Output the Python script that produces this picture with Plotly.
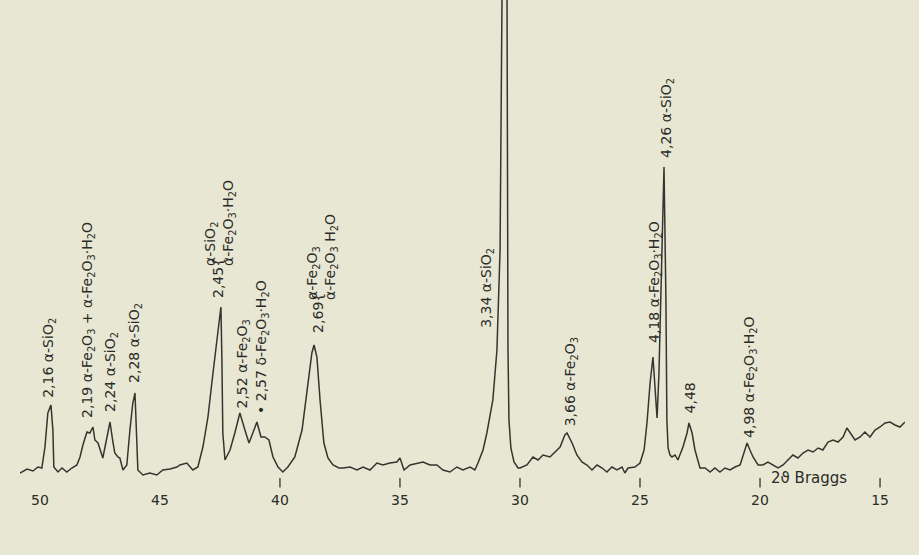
import plotly.graph_objects as go

two_theta = [50.83, 50.54, 50.29, 50.08, 49.92, 49.79, 49.67, 49.54, 49.46, 49.42, 49.25, 49.08,
             48.88, 48.67, 48.46, 48.33, 48.21, 48.04, 47.92, 47.79, 47.71, 47.58, 47.38, 47.25,
             47.08, 46.96, 46.88, 46.75, 46.67, 46.54, 46.38, 46.25, 46.13, 46.04, 45.96, 45.92,
             45.71, 45.42, 45.13, 44.88, 44.58, 44.29, 44.17, 43.88, 43.63, 43.42, 43.21, 43.00,
             42.79, 42.63, 42.46, 42.42, 42.38, 42.29, 42.08, 41.88, 41.67, 41.46, 41.29, 41.13,
             40.96, 40.79, 40.63, 40.46, 40.29, 40.08, 39.88, 39.67, 39.38, 39.08, 38.88, 38.67,
             38.58, 38.46, 38.33, 38.17, 38.00, 37.79, 37.54, 37.38, 37.08, 36.79, 36.54, 36.25,
             35.96, 35.71, 35.42, 35.13, 35.00, 34.83, 34.58, 34.29, 34.04, 33.75, 33.46, 33.21,
             32.92, 32.63, 32.38, 32.08, 31.88, 31.75, 31.54, 31.38, 31.25, 31.13, 30.96, 30.83,
             30.75, 30.65, 30.54, 30.52, 30.50, 30.46, 30.38, 30.25, 30.08, 30.00, 29.71, 29.46,
             29.25, 29.04, 28.75, 28.54, 28.33, 28.13, 28.04, 27.83, 27.63, 27.42, 27.21, 27.00,
             26.79, 26.58, 26.38, 26.17, 25.96, 25.75, 25.63, 25.50, 25.21, 25.00, 24.83, 24.71,
             24.58, 24.46, 24.38, 24.29, 24.21, 24.08, 24.00, 23.92, 23.88, 23.83, 23.75, 23.67,
             23.54, 23.42, 23.21, 23.04, 22.96, 22.83, 22.71, 22.50, 22.29, 22.08, 21.88, 21.67,
             21.46, 21.25, 21.04, 20.83, 20.71, 20.54, 20.42, 20.29, 20.08, 19.88, 19.67, 19.46,
             19.25, 19.04, 18.83, 18.63, 18.42, 18.21, 18.00, 17.79, 17.58, 17.38, 17.17, 16.96,
             16.75, 16.54, 16.38, 16.25, 16.04, 15.83, 15.63, 15.42, 15.21, 15.00, 14.79, 14.58,
             14.38, 14.17, 13.96]
intensity = [3, 7, 5, 9, 8, 29, 63, 71, 46, 9, 4, 8,
             4, 8, 11, 19, 31, 44, 43, 49, 36, 33, 18, 33,
             54, 34, 23, 19, 18, 6, 11, 46, 73, 83, 36, 6,
             1, 3, 1, 6, 7, 9, 11, 13, 6, 9, 29, 59,
             103, 136, 169, 119, 43, 16, 26, 43, 63, 46, 33, 43,
             54, 39, 39, 36, 19, 9, 4, 9, 19, 46, 86, 123,
             131, 119, 76, 33, 18, 11, 8, 8, 9, 6, 9, 6,
             13, 11, 13, 14, 18, 6, 11, 13, 14, 11, 11, 6,
             4, 9, 6, 9, 6, 13, 26, 43, 59, 76, 126, 226,
             476, 800, 476, 226, 126, 56, 28, 14, 8, 8, 11, 19,
             16, 21, 19, 24, 29, 41, 43, 33, 21, 14, 11, 6,
             11, 8, 4, 9, 6, 9, 3, 8, 9, 13, 26, 53,
             93, 119, 93, 58, 103, 226, 309, 176, 56, 28, 21, 19,
             21, 16, 29, 43, 53, 43, 26, 8, 8, 4, 8, 4,
             8, 6, 9, 11, 21, 33, 26, 19, 11, 11, 14, 11,
             8, 11, 16, 21, 18, 23, 26, 24, 28, 26, 34, 36,
             34, 39, 48, 43, 36, 39, 44, 39, 46, 49, 53, 54,
             51, 49, 54]

tick_vals = [50, 45, 40, 35, 30, 25, 20, 15]
tick_text = ["50", "45", "40", "35", "30", "25", "20", "15"]
marked_ticks = [40, 35, 30, 25, 20, 15]

# peak labels: (text, 2-theta, intensity at label foot)
peak_labels = [
    ("2,16 α-SiO<sub>2</sub>", 49.63, 76),
    ("2,19 α-Fe<sub>2</sub>O<sub>3</sub> + α-Fe<sub>2</sub>O<sub>3</sub>·H<sub>2</sub>O", 48.00, 56),
    ("2,24 α-SiO<sub>2</sub>", 47.04, 62),
    ("2,28 α-SiO<sub>2</sub>", 46.04, 91),
    ("2,45{", 42.58, 176),
    ("α-SiO<sub>2</sub><br>α-Fe<sub>2</sub>O<sub>3</sub>·H<sub>2</sub>O", 42.50, 208),
    ("2,52 α-Fe<sub>2</sub>O<sub>3</sub>", 41.54, 66),
    ("• 2,57 δ-Fe<sub>2</sub>O<sub>3</sub>·H<sub>2</sub>O", 40.75, 60),
    ("2,69{", 38.42, 141),
    ("α-Fe<sub>2</sub>O<sub>3</sub><br>α-Fe<sub>2</sub>O<sub>3</sub> H<sub>2</sub>O", 38.25, 174),
    ("3,34 α-SiO<sub>2</sub>", 31.38, 146),
    ("3,66 α-Fe<sub>2</sub>O<sub>3</sub>", 27.88, 48),
    ("4,18 α-Fe<sub>2</sub>O<sub>3</sub>·H<sub>2</sub>O", 24.38, 131),
    ("4,26 α-SiO<sub>2</sub>", 23.88, 316),
    ("4,48", 22.92, 61),
    ("4,98 α-Fe<sub>2</sub>O<sub>3</sub>·H<sub>2</sub>O", 20.42, 36),
]

paper = "#e8e7d3"
ink = "#35352f"
text_ink = "#2b2b27"
font_family = "DejaVu Sans, Liberation Sans, sans-serif"

fig = go.Figure()
fig.add_trace(go.Scatter(x=two_theta, y=intensity, mode="lines",
                         line=dict(color=ink, width=1.5), showlegend=False,
                         hoverinfo="skip"))

annotations = []
for text, x, y in peak_labels:
    annotations.append(dict(x=x, y=y, xref="x", yref="y", text=text, textangle=-90,
                            showarrow=False, xanchor="center", yanchor="bottom",
                            align="left",
                            font=dict(family=font_family, size=14, color=text_ink)))
annotations.append(dict(x=19.63, y=-0.004, xref="x", yref="paper", text="2ϑ Braggs",
                        showarrow=False, xanchor="left", yanchor="middle",
                        font=dict(family=font_family, size=15, color=text_ink)))

shapes = [dict(type="line", xref="x", yref="paper", x0=t, x1=t, y0=-0.004, y1=-0.024,
               line=dict(color=ink, width=1.3)) for t in marked_ticks]

x_range = [50.83, 13.96]
fig.update_layout(
    width=919, height=555,
    margin=dict(l=20, r=14, t=0, b=79),
    paper_bgcolor=paper, plot_bgcolor=paper,
    showlegend=False,
    annotations=annotations,
    shapes=shapes,
    xaxis=dict(range=x_range, tickvals=tick_vals, ticktext=tick_text,
               ticks="outside", ticklen=11, tickcolor="rgba(0,0,0,0)",
               showgrid=False, zeroline=False, showline=False,
               tickfont=dict(family=font_family, size=14, color=text_ink)),
    yaxis=dict(range=[0, 476], visible=False, showgrid=False, zeroline=False),
)

fig.write_html("out.html", config={"displayModeBar": False},
               post_script="document.body.style.margin='0';document.body.style.overflow='hidden';")
